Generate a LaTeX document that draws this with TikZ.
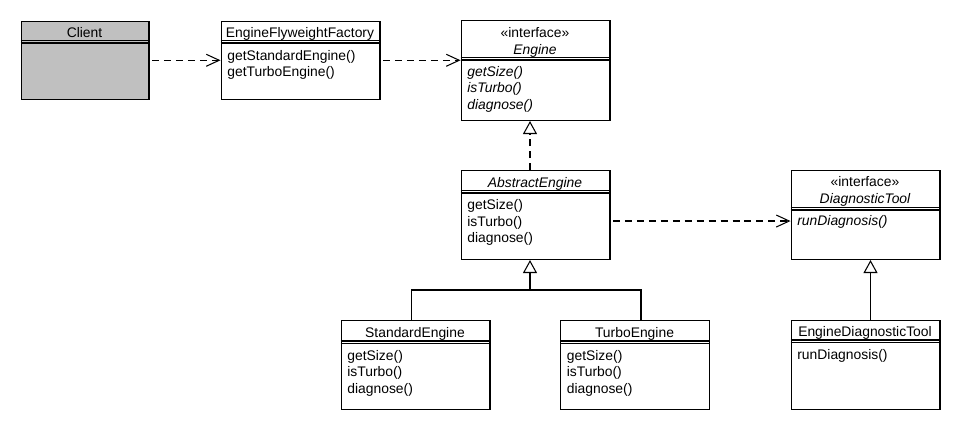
\documentclass[tikz,border=0pt]{standalone}
\usepackage{fontspec}
\setmainfont{Liberation Sans}
\usetikzlibrary{arrows.meta,calc}

\definecolor{clientgray}{HTML}{C0C0C0}

\tikzset{
  classbox/.style={draw, line width=0.6pt, inner sep=0, anchor=north west},
  title/.style={inner sep=0, anchor=base},
  op/.style={inner sep=0, anchor=base west},
  sep/.style={line width=0.6pt},
  depend/.style={line width=0.6pt, dash pattern=on 4pt off 2.8pt, shorten <=0.05cm,
    -{Straight Barb[length=0.26cm, width=0.24cm]}},
  realize/.style={line width=0.6pt, dash pattern=on 4pt off 2.8pt,
    -{Triangle[open, length=0.26cm, width=0.28cm]}},
  inherit/.style={line width=0.6pt, -{Triangle[open, length=0.26cm, width=0.28cm]}},
}

\begin{document}
\begin{tikzpicture}[x=0.02cm, y=-0.02cm, every node/.style={font=\fontsize{7.9}{9.5}\selectfont}]
\useasboundingbox (0,0) rectangle (960,430);

% client and factory
\node[classbox, fill=clientgray, minimum width=2.56cm, minimum height=1.57cm] (client) at (20.5,20.5) {};
\node[title] (clientname) at (84.5,37.7) {Client};
\draw[sep] (client.west |- 0,40.7) -- (client.east |- 0,40.7);
\draw[sep] (client.west |- 0,43) -- (client.east |- 0,43);

\node[classbox, minimum width=3.18cm, minimum height=1.57cm] (factory) at (220.5,20.5) {};
\node[title] (factoryname) at (300,37.7) {EngineFlyweightFactory};
\draw[sep] (factory.west |- 0,40.7) -- (factory.east |- 0,40.7);
\draw[sep] (factory.west |- 0,43) -- (factory.east |- 0,43);
\node[op] (fop1) at (227,60) {getStandardEngine()};
\node[op] (fop2) at (227,76.5) {getTurboEngine()};

% engine interface
\node[classbox, minimum width=2.98cm, minimum height=2cm] (eng) at (460.5,20) {};
\node[title] (engstereo) at (535,37.5) {«interface»};
\node[title] (engname) at (535,54.3) {\itshape Engine};
\draw[sep] (eng.west |- 0,57.7) -- (eng.east |- 0,57.7);
\draw[sep] (eng.west |- 0,60) -- (eng.east |- 0,60);
\node[op] (eop1) at (467,76) {\itshape getSize()};
\node[op] (eop2) at (467,92.7) {\itshape isTurbo()};
\node[op] (eop3) at (467,109.3) {\itshape diagnose()};

% abstract engine
\node[classbox, minimum width=2.98cm, minimum height=1.78cm] (abs) at (460.5,170) {};
\node[title] (absname) at (535,187.3) {\itshape AbstractEngine};
\draw[sep] (abs.west |- 0,190.7) -- (abs.east |- 0,190.7);
\draw[sep] (abs.west |- 0,193) -- (abs.east |- 0,193);
\node[op] (aop1) at (467,209.3) {getSize()};
\node[op] (aop2) at (467,226) {isTurbo()};
\node[op] (aop3) at (467,242.7) {diagnose()};

% diagnostic tool interface
\node[classbox, minimum width=2.98cm, minimum height=1.78cm] (dt) at (790.5,170) {};
\node[title] (dtstereo) at (865,186.7) {«interface»};
\node[title] (dtname) at (865,203.3) {\itshape DiagnosticTool};
\draw[sep] (dt.west |- 0,207.3) -- (dt.east |- 0,207.3);
\draw[sep] (dt.west |- 0,210) -- (dt.east |- 0,210);
\node[op] (dop1) at (797,225) {\itshape runDiagnosis()};

% concrete engines
\node[classbox, minimum width=2.98cm, minimum height=1.78cm] (std) at (340.5,320) {};
\node[title] (stdname) at (415,337.3) {StandardEngine};
\draw[sep] (std.west |- 0,341) -- (std.east |- 0,341);
\draw[sep] (std.west |- 0,343.5) -- (std.east |- 0,343.5);
\node[op] (sop1) at (347,360) {getSize()};
\node[op] (sop2) at (347,376.7) {isTurbo()};
\node[op] (sop3) at (347,393.3) {diagnose()};

\node[classbox, minimum width=2.98cm, minimum height=1.78cm] (turbo) at (560,320) {};
\node[title] (turboname) at (634.5,337.3) {TurboEngine};
\draw[sep] (turbo.west |- 0,341) -- (turbo.east |- 0,341);
\draw[sep] (turbo.west |- 0,343.5) -- (turbo.east |- 0,343.5);
\node[op] (top1) at (566.5,360) {getSize()};
\node[op] (top2) at (566.5,376.7) {isTurbo()};
\node[op] (top3) at (566.5,393.3) {diagnose()};

\node[classbox, minimum width=2.98cm, minimum height=1.78cm] (edt) at (790.5,320) {};
\node[title] (edtname) at (865,336.7) {EngineDiagnosticTool};
\draw[sep] (edt.west |- 0,340) -- (edt.east |- 0,340);
\draw[sep] (edt.west |- 0,342.7) -- (edt.east |- 0,342.7);
\node[op] (edop1) at (797,359.3) {runDiagnosis()};

% connectors
\coordinate (join) at (530,290);
\draw[depend] (client) -- (factory);
\draw[depend] (factory.east |- client.east) -- (eng.west |- client.east);
\draw[realize] (abs.north -| join) -- (eng.south -| join);
\draw[depend] ($(abs.east)+(0,6)$) -- ($(dt.west)+(0,6)$);
\draw[line width=0.6pt] ($(std.north)+(-4,0)$) |- (join) -| ($(turbo.north)+(6,0)$);
\draw[inherit] (join) -- (abs.south -| join);
\draw[inherit] ($(edt.north)+(5,0)$) -- ($(dt.south)+(5,0)$);
\end{tikzpicture}
\end{document}
